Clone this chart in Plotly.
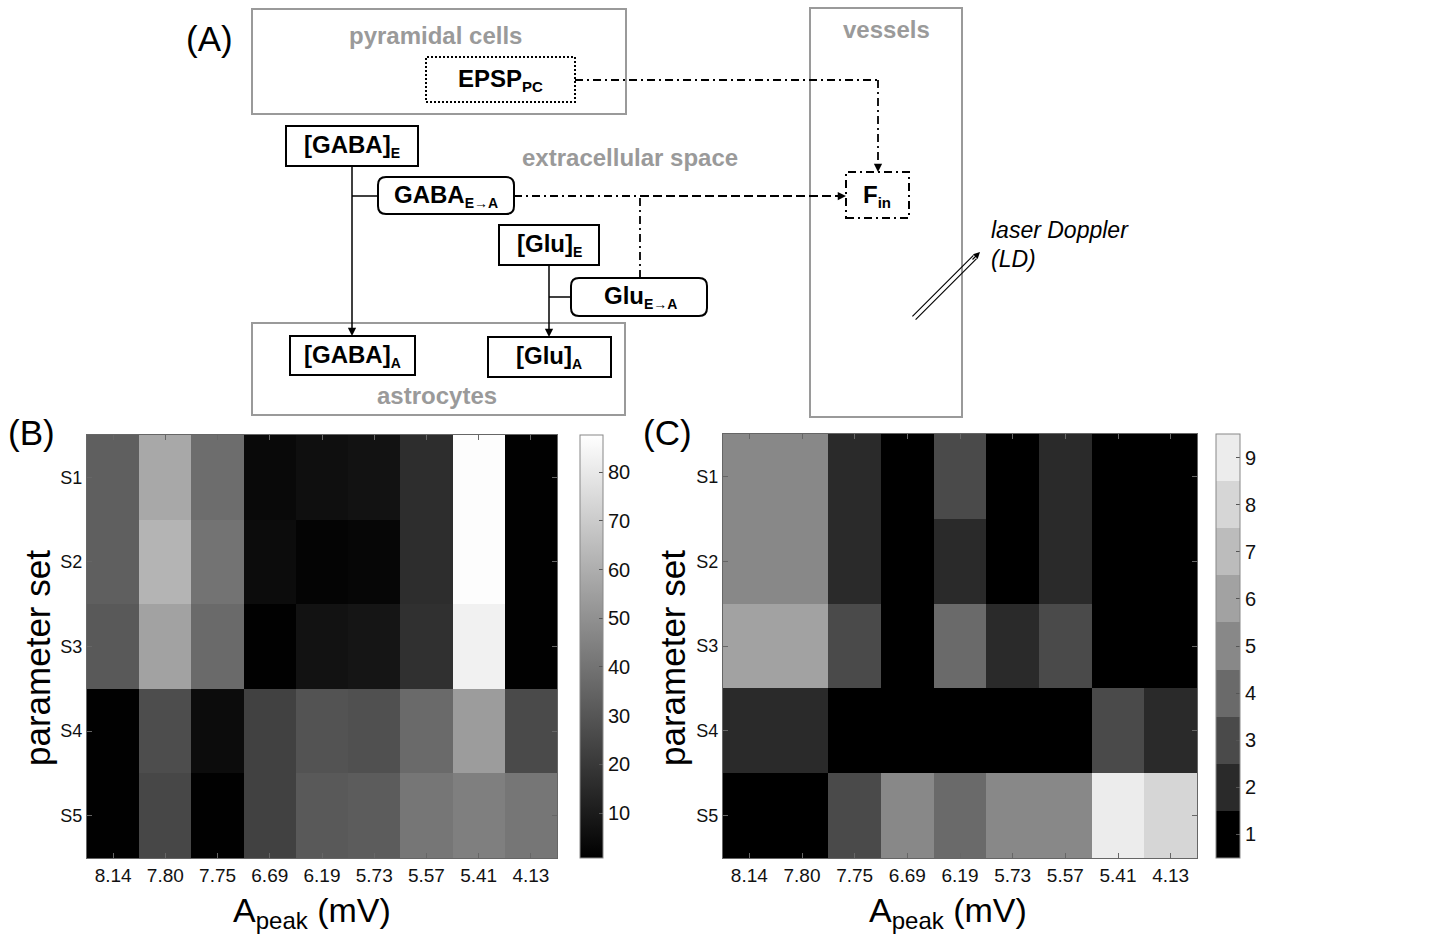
import plotly.graph_objects as go

W, H = 1429, 939
FONT = "Liberation Sans"

# ---------------- data ----------------
x_labels = ["8.14", "7.80", "7.75", "6.69", "6.19", "5.73", "5.57", "5.41", "4.13"]
y_labels = ["S1", "S2", "S3", "S4", "S5"]

b_values = [
    [33, 58, 38, 4, 6, 7, 16, 87, 1],
    [33, 62, 40, 5, 2, 3, 16, 87, 1],
    [31, 56, 37, 1, 7, 8, 17, 83, 1],
    [1, 27, 5, 23, 29, 28, 37, 54, 26],
    [1, 25, 1, 23, 31, 32, 41, 44, 41],
]
b_ticks = [10, 20, 30, 40, 50, 60, 70, 80]

c_values = [
    [5, 5, 2, 1, 3, 1, 2, 1, 1],
    [5, 5, 2, 1, 2, 1, 2, 1, 1],
    [6, 6, 3, 1, 4, 2, 3, 1, 1],
    [2, 2, 1, 1, 1, 1, 1, 3, 2],
    [1, 1, 3, 5, 4, 5, 5, 9, 8],
]
c_ticks = [1, 2, 3, 4, 5, 6, 7, 8, 9]

# ---------------- styles ----------------
c_level_colors = ["#000000", "#2a2a2a", "#4a4a4a", "#6a6a6a", "#888888",
                  "#a2a2a2", "#bcbcbc", "#d6d6d6", "#ececec"]
c_scale = []
n = len(c_level_colors)
for i, col in enumerate(c_level_colors):
    c_scale.append([i / n, col])
    c_scale.append([(i + 1) / n, col])


def px(x):
    return x / W


def py(y):
    return 1 - y / H


fig = go.Figure()

# panel B and C geometry (pixels)
B = dict(l=87, r=557, t=435, b=858, cb=580)
C = dict(l=723, r=1197, t=434, b=858, cb=1216)

fig.add_trace(go.Heatmap(
    z=b_values, x=x_labels, y=y_labels, xaxis="x", yaxis="y",
    colorscale=[[0, "#000000"], [1, "#ffffff"]], zmin=0.8, zmax=87.6,
    colorbar=dict(
        x=px(B["cb"]), xanchor="left", xref="paper",
        y=py((B["t"] + B["b"]) / 2), yanchor="middle", yref="paper",
        thickness=23, thicknessmode="pixels", len=B["b"] - B["t"], lenmode="pixels",
        xpad=0, ypad=0, outlinewidth=1, outlinecolor="#888888",
        tickvals=b_ticks, ticks="inside", ticklen=4, tickcolor="#555555",
        tickfont=dict(family=FONT, size=20, color="#111111"),
    ),
))

fig.add_trace(go.Heatmap(
    z=c_values, x=x_labels, y=y_labels, xaxis="x2", yaxis="y2",
    colorscale=c_scale, zmin=0.5, zmax=9.5,
    colorbar=dict(
        x=px(C["cb"]), xanchor="left", xref="paper",
        y=py((C["t"] + C["b"]) / 2), yanchor="middle", yref="paper",
        thickness=24, thicknessmode="pixels", len=C["b"] - C["t"], lenmode="pixels",
        xpad=0, ypad=0, outlinewidth=1, outlinecolor="#888888",
        tickvals=c_ticks, ticks="inside", ticklen=4, tickcolor="#555555",
        tickfont=dict(family=FONT, size=20, color="#111111"),
    ),
))

axis_common = dict(
    showline=True, mirror="ticks", linecolor="#666666", linewidth=1,
    ticks="inside", ticklen=5, tickcolor="#666666", showgrid=False,
    zeroline=False, automargin=False,
)

fig.update_layout(
    width=W, height=H, margin=dict(l=0, r=0, t=0, b=0),
    paper_bgcolor="white", plot_bgcolor="white", showlegend=False,
    font=dict(family=FONT, color="#111111"),
    xaxis=dict(domain=[px(B["l"]), px(B["r"])], anchor="y", type="category",
               tickfont=dict(size=19), **axis_common),
    yaxis=dict(domain=[py(B["b"]), py(B["t"])], anchor="x", type="category",
               autorange="reversed", tickfont=dict(size=18), **axis_common),
    xaxis2=dict(domain=[px(C["l"]), px(C["r"])], anchor="y2", type="category",
                tickfont=dict(size=19), **axis_common),
    yaxis2=dict(domain=[py(C["b"]), py(C["t"])], anchor="x2", type="category",
                autorange="reversed", tickfont=dict(size=18), **axis_common),
)

shapes = []
annots = []

GRAY = "#9a9a9a"


def rect(x0, y0, x1, y1, color="black", width=2, dash=None):
    ln = dict(color=color, width=width)
    if dash:
        ln["dash"] = dash
    shapes.append(dict(type="rect", xref="paper", yref="paper",
                       x0=px(x0), x1=px(x1), y0=py(y1), y1=py(y0), line=ln,
                       fillcolor="rgba(0,0,0,0)"))


def rrect(x0, y0, x1, y1, r=8, color="black", width=2):
    pts = [
        ("M", [(x0 + r, y0)]), ("L", [(x1 - r, y0)]), ("Q", [(x1, y0), (x1, y0 + r)]),
        ("L", [(x1, y1 - r)]), ("Q", [(x1, y1), (x1 - r, y1)]),
        ("L", [(x0 + r, y1)]), ("Q", [(x0, y1), (x0, y1 - r)]),
        ("L", [(x0, y0 + r)]), ("Q", [(x0, y0), (x0 + r, y0)]),
    ]
    path = ""
    for cmd, ps in pts:
        path += cmd + " " + " ".join(f"{px(a):.6f},{py(b):.6f}" for a, b in ps) + " "
    path += "Z"
    shapes.append(dict(type="path", xref="paper", yref="paper", path=path,
                       line=dict(color=color, width=width), fillcolor="white"))


def line(x0, y0, x1, y1, color="black", width=1.5, dash=None):
    ln = dict(color=color, width=width)
    if dash:
        ln["dash"] = dash
    shapes.append(dict(type="line", xref="paper", yref="paper",
                       x0=px(x0), x1=px(x1), y0=py(y0), y1=py(y1), line=ln))


def head(x, y, dx, dy, width=1.5):
    annots.append(dict(x=px(x), y=py(y), xref="paper", yref="paper", text="",
                       showarrow=True, arrowhead=2, arrowsize=1.1, arrowwidth=width,
                       arrowcolor="black", ax=dx, ay=dy, standoff=0))


def text(x, y, s, size=21, color="black", xanchor="center", angle=0, italic=False):
    annots.append(dict(x=px(x), y=py(y), xref="paper", yref="paper", text=s,
                       showarrow=False, xanchor=xanchor, yanchor="middle",
                       textangle=angle,
                       font=dict(family=FONT, size=size, color=color,
                                 style="italic" if italic else "normal")))


def sub(s, size=14):
    return f"<sub><span style='font-size:{size}px'>{s}</span></sub>"


DASHDOT = "8px,4px,2px,4px"
DASHED = "9px,4px"
BOX = 24

# compartments (gray)
rect(252, 9, 626, 114, GRAY, 2)
rect(810, 8, 962, 417, GRAY, 2)
rect(252, 323, 625, 415, GRAY, 2)
text(435, 35, "<b>pyramidal cells</b>", 24, GRAY)
text(886, 30, "<b>vessels</b>", 24, GRAY)
text(630, 157, "<b>extracellular space</b>", 24, GRAY)
text(437, 396, "<b>astrocytes</b>", 24, GRAY)

# connections
line(575, 80, 878, 80, dash=DASHDOT, width=1.8)
line(878, 80, 878, 166, dash=DASHDOT, width=1.8)
head(878, 172, 0, -8)
line(352, 166, 352, 328, width=1.5)
head(352, 336, 0, -9)
line(352, 196, 378, 196, width=1.5)
line(514, 196, 640, 196, dash=DASHDOT, width=1.8)
line(640, 196, 838, 196, dash=DASHED, width=1.8)
head(846, 196, -9, 0)
line(640, 278, 640, 196, dash=DASHDOT, width=1.8)
line(549, 265, 549, 329, width=1.5)
head(549, 337, 0, -9)
line(549, 297, 571, 297, width=1.5)

# boxes
rect(426, 57, 575, 102, "black", 2, "2px,2px")
text(500, 80, "<b>EPSP" + sub("PC", 15) + "</b>", BOX)
rect(846, 172, 909, 218, "black", 2, DASHDOT)
text(877, 196, "<b>F" + sub("in", 15) + "</b>", BOX)
rect(286, 126, 418, 166, "black", 2)
text(352, 146, "<b>[GABA]" + sub("E") + "</b>", BOX)
rrect(378, 177, 514, 214, 8)
text(446, 196, "<b>GABA" + sub("E→A") + "</b>", BOX)
rect(499, 225, 599, 265, "black", 2)
text(549, 245, "<b>[Glu]" + sub("E") + "</b>", BOX)
rrect(571, 278, 707, 316, 8)
text(640, 297, "<b>Glu" + sub("E→A") + "</b>", BOX)
rect(290, 336, 415, 375, "black", 2)
text(352, 356, "<b>[GABA]" + sub("A") + "</b>", BOX)
rect(488, 337, 611, 377, "black", 2)
text(549, 357, "<b>[Glu]" + sub("A") + "</b>", BOX)

# laser doppler double arrow
off = 1.6
line(914 - off, 318 - off, 975 - off, 257 - off, width=1.2)
line(914 + off, 318 + off, 975 + off, 257 + off, width=1.2)
head(980, 252, -9, 9, width=1.2)
text(989, 230, "laser Doppler", 23, xanchor="left", italic=True)
text(989, 259, "(LD)", 23, xanchor="left", italic=True)

# panel labels
text(209, 38, "(A)", 35)
text(32, 432, "(B)", 35)
text(667, 432, "(C)", 35)

# axis titles
text(37, 658, "parameter set", 35, angle=-90)
text(672, 658, "parameter set", 35, angle=-90)
text(312, 912, "A" + sub("peak", 24) + " (mV)", 34)
text(948, 912, "A" + sub("peak", 24) + " (mV)", 34)

fig.update_layout(shapes=shapes, annotations=annots)

fig.write_html("out.html", config={"displayModeBar": False},
               post_script="document.body.style.margin='0';document.body.style.overflow='hidden';")
